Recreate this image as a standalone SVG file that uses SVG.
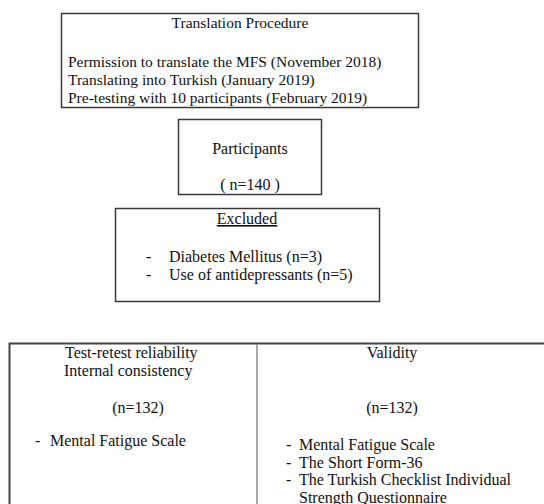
<svg xmlns="http://www.w3.org/2000/svg" width="544" height="504" viewBox="0 0 544 504">
<style>
  text { font-family: "Liberation Serif", "Times New Roman", serif; font-size: 16px; fill: #111; }
  .s { font-size: 15.5px; }
  .c { text-anchor: middle; }
  .box { fill: #fff; stroke: #3a3a3a; stroke-width: 1.5; }
  .tline { stroke: #444; stroke-width: 2; fill: none; }
  .div { stroke: #8a8a8a; stroke-width: 1.5; fill: none; }
</style>
<rect width="544" height="504" fill="#fff"/>
<g id="translation-procedure">
  <rect class="box" x="61.5" y="13.5" width="357" height="94"/>
  <text class="s c" x="240" y="28">Translation Procedure</text>
  <text class="s" x="68" y="67">Permission to translate the MFS (November 2018)</text>
  <text class="s" x="68" y="85">Translating into Turkish (January 2019)</text>
  <text class="s" x="68" y="103">Pre-testing with 10 participants (February 2019)</text>
</g>
<g id="participants">
  <rect class="box" x="178.5" y="119.5" width="143" height="75"/>
  <text class="c" x="250" y="154">Participants</text>
  <text class="c" x="250" y="190">( n=140 )</text>
</g>
<g id="excluded">
  <rect class="box" x="115.5" y="208.5" width="264" height="93"/>
  <text class="c" x="247" y="224" text-decoration="underline">Excluded</text>
  <text x="146" y="262">-</text>
  <text x="169" y="262">Diabetes Mellitus (n=3)</text>
  <text x="146" y="280">-</text>
  <text x="169" y="280">Use of antidepressants (n=5)</text>
</g>
<g id="analysis-table">
  <path class="tline" d="M9.5 504 V343.5 H544"/>
  <path class="div" d="M257 344.5 V504"/>
  <g id="reliability">
    <text x="65" y="358">Test-retest reliability</text>
    <text x="64" y="376">Internal consistency</text>
    <text class="c" x="138" y="413">(n=132)</text>
    <text x="35" y="446">-</text>
    <text x="50" y="446">Mental Fatigue Scale</text>
  </g>
  <g id="validity">
    <text class="c" x="392" y="358">Validity</text>
    <text class="c" x="392" y="413">(n=132)</text>
    <text x="286" y="450">-</text>
    <text x="299" y="450">Mental Fatigue Scale</text>
    <text x="286" y="467.5">-</text>
    <text x="299" y="467.5">The Short Form-36</text>
    <text x="286" y="485">-</text>
    <text x="299" y="485">The Turkish Checklist Individual</text>
    <text x="299" y="502.5">Strength Questionnaire</text>
  </g>
</g>
<g id="connectors"/>
</svg>
